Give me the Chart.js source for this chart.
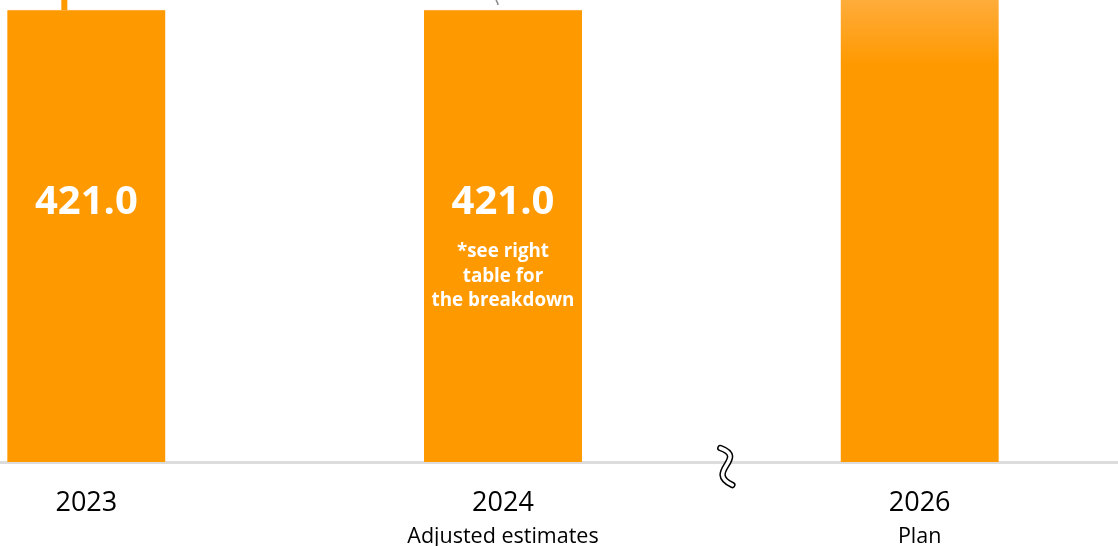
<!DOCTYPE html>
<html>
<head>
<meta charset="utf-8">
<script src="https://cdn.jsdelivr.net/npm/chart.js@4"></script>
<style>
  html, body { margin: 0; padding: 0; background: #fff; overflow: hidden; }
  body { width: 1118px; height: 546px; position: relative; }
  /* the chart is a bit wider than the window so the categories line up with the slide */
  #wrap { position: absolute; left: -122px; top: 0; width: 1250px; height: 546px; }
</style>
</head>
<body>
<div id="wrap"><canvas id="capChart"></canvas></div>
<script>
// data
var years = ['2023', '2024', '2026'];
var subtitles = ['', 'Adjusted estimates', 'Plan'];
var values = [421.0, 421.0, 480];          // 2026 bar runs off the top of the slide
var valueLabels = ['421.0', '421.0', ''];
var noteLines = ['*see right', 'table for', 'the breakdown'];

var ORANGE = '#FF9900';

// labels, axis break and small marks drawn on top of the bars
var overlay = {
    id: 'overlay',
    afterDatasetsDraw: function (chart) {
        var ctx = chart.ctx;
        var bars = chart.getDatasetMeta(0).data;
        var x = chart.scales.x;
        var area = chart.chartArea;

        ctx.save();
        // stem above 2023 bar
        ctx.fillStyle = ORANGE;
        ctx.fillRect(bars[0].x - 25, 0, 6, bars[0].y);
        // tiny grey connector above 2024 bar
        ctx.strokeStyle = '#8a8a8a';
        ctx.lineWidth = 1.5;
        ctx.beginPath();
        ctx.moveTo(bars[1].x - 7, 0);
        ctx.quadraticCurveTo(bars[1].x - 5, 3, bars[1].x - 5, 5);
        ctx.stroke();

        // value labels
        ctx.fillStyle = '#fff';
        ctx.textAlign = 'center';
        ctx.textBaseline = 'middle';
        ctx.font = 'bold 40px "Open Sans"';
        bars.forEach(function (bar, i) {
            if (valueLabels[i]) ctx.fillText(valueLabels[i], bar.x, bar.y + 193);
        });
        ctx.font = 'bold 18.8px "Open Sans"';
        noteLines.forEach(function (line, j) {
            ctx.fillText(line, bars[1].x, bars[1].y + 242 + j * 24.5);
        });

        // axis break squiggle between 2024 and 2026
        var cx = (x.getPixelForValue(1) + x.getPixelForValue(2)) / 2 + 15;
        var cy = area.bottom + 4;
        function squiggle() {
            ctx.beginPath();
            ctx.moveTo(cx - 6, cy - 18);
            ctx.bezierCurveTo(cx + 22, cy - 8, cx - 22, cy + 6, cx + 6, cy + 19);
            ctx.stroke();
        }
        ctx.lineCap = 'round';
        ctx.strokeStyle = '#000';
        ctx.lineWidth = 6.5;
        squiggle();
        ctx.strokeStyle = '#fff';
        ctx.lineWidth = 3.5;
        squiggle();
        ctx.restore();
    }
};

var ctx = document.getElementById('capChart').getContext('2d');

var chart = new Chart(ctx, {
    type: 'bar',
    data: {
        labels: years,
        datasets: [{
            data: values,
            backgroundColor: function (c) {
                var area = c.chart.chartArea;
                if (!area || c.dataIndex !== 2) return ORANGE;
                var g = c.chart.ctx.createLinearGradient(0, area.top, 0, area.top + 65);
                g.addColorStop(0, '#FFAC3B');
                g.addColorStop(1, ORANGE);
                return g;
            },
            borderColor: '#FFB44A',
            borderWidth: { top: 1, left: 0, right: 0, bottom: 0 },
            borderSkipped: 'start',
            barThickness: 158
        }]
    },
    options: {
        responsive: true,
        maintainAspectRatio: false,
        animation: false,
        layout: { padding: 0 },
        plugins: {
            legend: { display: false },
            tooltip: { enabled: false }
        },
        scales: {
            y: { display: false, min: 0, max: 430.3 },
            x: {
                weight: 0,
                offset: true,
                grid: { display: false, drawTicks: false, tickLength: 0 },
                border: { display: true, color: '#dcdcdc', width: 3 },
                ticks: { color: '#000', padding: 25, maxRotation: 0, font: { family: 'Open Sans', size: 27 } },
                afterFit: function (s) { s.height = 52; }
            },
            x2: {
                type: 'category',
                position: 'bottom',
                labels: subtitles,
                weight: 1,
                offset: true,
                grid: { display: false, drawTicks: false, tickLength: 0 },
                border: { display: false },
                ticks: { color: '#000', padding: 10, maxRotation: 0, autoSkip: false, font: { family: 'Open Sans', size: 21.5 } },
                afterFit: function (s) { s.height = 32; }
            }
        }
    },
    plugins: [overlay]
});
</script>
</body>
</html>
